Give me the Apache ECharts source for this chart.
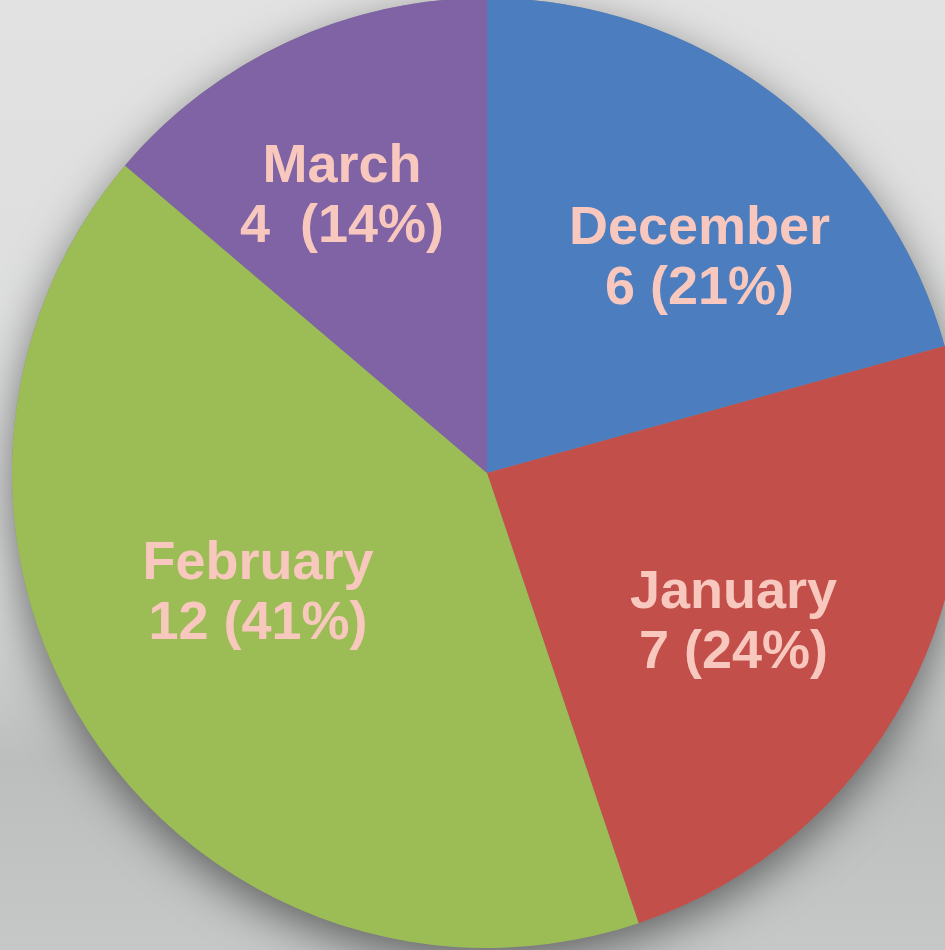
<!DOCTYPE html>
<html>
<head>
<meta charset="utf-8">
<style>
  html, body { margin: 0; padding: 0; }
  #chart { width: 945px; height: 950px; }
</style>
<script src="https://cdn.jsdelivr.net/npm/echarts@6/dist/echarts.min.js"></script>
</head>
<body>
<div id="chart"></div>
<script>
// months, in clockwise order from 12 o'clock
const months = ['December', 'January', 'February', 'March']
const counts = [6, 7, 12, 4]
const sliceColors = ['#4c7dbf', '#c34f4a', '#9cbd55', '#7f63a4']
// nudges for the labels, the original puts them off the mid-angle a bit
const labelNudge = [[67, -22], [34, 37], [-30, -14], [-44, -58]]

const chart = echarts.init(document.getElementById('chart'))

const pieData = months.map((m, i) => ({
  name: m,
  value: counts[i],
  itemStyle: { color: sliceColors[i] },
  label: {
    offset: labelNudge[i],
    formatter: m === 'March' ? '{b}\n{c}  ({d}%)' : '{b}\n{c} ({d}%)'
  }
}))

const pieCenter = [487, 473]
const pieRadius = 475

chart.setOption({
  backgroundColor: {
    type: 'linear', x: 0, y: 0, x2: 0, y2: 1,
    colorStops: [
      { offset: 0, color: '#e1e2e1' },
      { offset: 0.6, color: '#dadcdb' },
      { offset: 0.8, color: '#bcbebd' },
      { offset: 1, color: '#c6c8c7' }
    ]
  },
  animation: false,
  series: [
    {
      // plain disc underneath, only there to cast the soft shadow
      type: 'pie',
      silent: true,
      z: 1,
      center: pieCenter,
      radius: pieRadius,
      data: [{ value: 1, itemStyle: { color: '#888' } }],
      itemStyle: {
        shadowBlur: 45,
        shadowColor: 'rgba(0,0,0,0.5)',
        shadowOffsetY: 14
      },
      label: { show: false },
      labelLine: { show: false },
      emphasis: { disabled: true }
    },
    {
      type: 'pie',
      z: 2,
      center: pieCenter,
      radius: pieRadius,
      startAngle: 90,
      clockwise: true,
      percentPrecision: 0,
      data: pieData,
      itemStyle: { borderWidth: 0 },
      label: {
        show: true,
        position: 'inside',
        color: '#f8c8be',
        fontFamily: 'Liberation Sans, Arial, sans-serif',
        fontWeight: 'bold',
        fontSize: 54,
        lineHeight: 60,
        align: 'center'
      },
      labelLine: { show: false },
      emphasis: { disabled: true }
    }
  ]
})

window.addEventListener('resize', () => chart.resize())
</script>
</body>
</html>
